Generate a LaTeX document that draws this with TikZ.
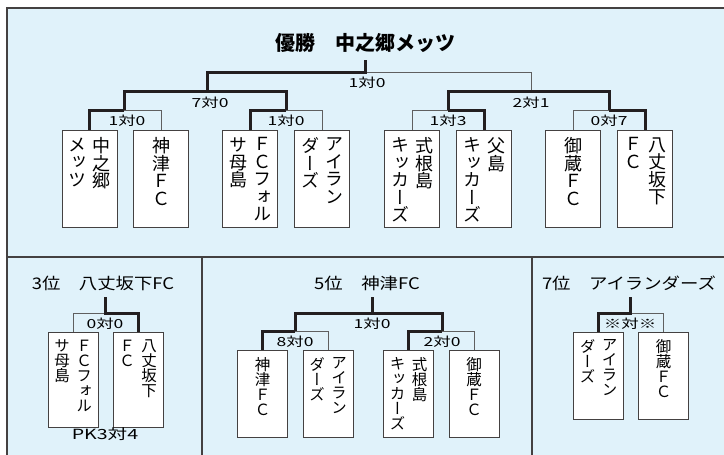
\documentclass[tikz,border=0pt]{standalone}
\usepackage{fontspec}
\setmainfont{Noto Sans CJK JP}
\newfontfamily\tatefont{Noto Sans CJK JP}[RawFeature=+vert]
\newfontfamily\scorefont{Noto Sans CJK JP}[FakeStretch=1.4]
\newfontfamily\headfont{Noto Sans CJK JP}[FakeStretch=1.15]
\usetikzlibrary{positioning}
\definecolor{panelblue}{RGB}{224,242,250}
\definecolor{inkdark}{RGB}{35,31,32}
\definecolor{inkgray}{RGB}{95,95,95}
\tikzset{
  win/.style={line width=3pt, draw=inkdark},
  lose/.style={line width=1pt, draw=inkgray},
  teambox/.style={draw=inkdark!85, line width=0.9pt, fill=white, inner sep=0pt,
    minimum width=55pt, minimum height=97pt},
  smallbox/.style={teambox, minimum width=50pt, minimum height=87pt},
  tate/.style={inner sep=0pt, align=center, font=\tatefont\fontsize{18}{17.5}\selectfont},
  smalltate/.style={tate, font=\tatefont\fontsize{15.5}{15}\selectfont},
  score/.style={inner sep=0pt, font=\scorefont\fontsize{12.5}{14}\selectfont},
  heading/.style={inner sep=0pt, font=\headfont\fontsize{16}{18}\selectfont},
}
\begin{document}
\begin{tikzpicture}[x=1pt,y=1pt]
    \useasboundingbox (0,0) rectangle (724,-455);
    % panels
    \fill[panelblue] (7,-8) rectangle (724,-455);
    \draw[line width=2pt, draw=inkdark!85] (7,-455) -- (7,-8) -- (724,-8);
    \draw[line width=1.5pt, draw=inkdark!85] (7,-257) -- (724,-257);
    \draw[line width=1.5pt, draw=inkdark!85] (202,-257) -- (202,-455);
    \draw[line width=1.5pt, draw=inkdark!85] (532,-257) -- (532,-455);

    % main bracket
    \node[inner sep=0pt, font=\bfseries\fontsize{20}{22}\selectfont] (champ) at (365,-43) {優勝　中之郷メッツ};
    \coordinate (ctop) at (365,-60);
    \coordinate (f) at (365,-72);
    \coordinate (s1) at (207,-91);
    \coordinate (s2) at (531,-91);
    \coordinate (q1) at (124,-110);
    \coordinate (q2) at (286,-110);
    \coordinate (q3) at (448,-110);
    \coordinate (q4) at (609,-110);
    \node[teambox] (b1) at (89.5,-178.5) {};
    \node[teambox] (b2) at (161,-178.5) {};
    \node[teambox] (b3) at (250,-178.5) {};
    \node[teambox] (b4) at (322,-178.5) {};
    \node[teambox] (b5) at (412,-178.5) {};
    \node[teambox] (b6) at (484,-178.5) {};
    \node[teambox] (b7) at (573,-178.5) {};
    \node[teambox] (b8) at (645,-178.5) {};
    \node[tate, below=8pt of b1.north, xshift=12pt] (b1r) {中\\之\\郷};
    \node[tate, below=8pt of b1.north, xshift=-12pt] (b1l) {メ\\ッ\\ツ};
    \node[tate, below=8pt of b2.north] (b2c) {神\\津\\Ｆ\\Ｃ};
    \node[tate, below=8pt of b3.north, xshift=12pt] (b3r) {Ｆ\\Ｃ\\フ\\ォ\\ル};
    \node[tate, below=8pt of b3.north, xshift=-12pt] (b3l) {サ\\母\\島};
    \node[tate, below=8pt of b4.north, xshift=12pt] (b4r) {ア\\イ\\ラ\\ン};
    \node[tate, below=8pt of b4.north, xshift=-12pt] (b4l) {ダ\\ー\\ズ};
    \node[tate, below=8pt of b5.north, xshift=12pt] (b5r) {式\\根\\島};
    \node[tate, below=8pt of b5.north, xshift=-12pt] (b5l) {キ\\ッ\\カ\\ー\\ズ};
    \node[tate, below=8pt of b6.north, xshift=12pt] (b6r) {父\\島};
    \node[tate, below=8pt of b6.north, xshift=-12pt] (b6l) {キ\\ッ\\カ\\ー\\ズ};
    \node[tate, below=8pt of b7.north] (b7c) {御\\蔵\\Ｆ\\Ｃ};
    \node[tate, below=8pt of b8.north, xshift=12pt] (b8r) {八\\丈\\坂\\下};
    \node[tate, below=8pt of b8.north, xshift=-12pt] (b8l) {Ｆ\\Ｃ};
    \draw[lose] (f) -| (s2);
    \draw[win] (ctop) -- (f) -| (s1);
    \draw[win] (q1) |- (s1) -| (q2);
    \draw[win] (q3) |- (s2) -| (q4);
    \draw[lose] (q1) -| (b2.north);
    \draw[win] (q1) -| (b1.north);
    \draw[lose] (q2) -| (b4.north);
    \draw[win] (q2) -| (b3.north);
    \draw[lose] (q3) -| (b5.north);
    \draw[win] (q3) -| (b6.north);
    \draw[lose] (q4) -| (b7.north);
    \draw[win] (q4) -| (b8.north);
    \node[score, below=5pt of f, xshift=2pt] (sf) {1対0};
    \node[score, below=6pt of s1, xshift=3pt] (ss1) {7対0};
    \node[score, below=6pt of s2] (ss2) {2対1};
    \node[score, below=5pt of q1, xshift=3pt] (sq1) {1対0};
    \node[score, below=5pt of q2] (sq2) {1対0};
    \node[score, below=5pt of q3] (sq3) {1対3};
    \node[score, below=5pt of q4] (sq4) {0対7};

    % 3rd place
    \node[heading] (third) at (103,-283) {3位　八丈坂下FC};
    \coordinate (t3) at (105,-297);
    \coordinate (p3) at (105,-313);
    \node[smallbox, minimum height=95pt] (c1) at (73,-379.5) {};
    \node[smallbox, minimum height=95pt] (c2) at (138,-379.5) {};
    \node[smalltate, below=8pt of c1.north, xshift=11pt] (c1r) {Ｆ\\Ｃ\\フ\\ォ\\ル};
    \node[smalltate, below=8pt of c1.north, xshift=-11pt] (c1l) {サ\\母\\島};
    \node[smalltate, below=8pt of c2.north, xshift=11pt] (c2r) {八\\丈\\坂\\下};
    \node[smalltate, below=8pt of c2.north, xshift=-11pt] (c2l) {Ｆ\\Ｃ};
    \draw[lose] (p3) -| (c1.north);
    \draw[win] (t3) -- (p3) -| (c2.north);
    \node[score, below=5pt of p3] (sp3) {0対0};
    \node[score, font=\scorefont\fontsize{14}{16}\selectfont] (pk) at (105,-434) {PK3対4};

    % 5th place
    \node[heading] (fifth) at (367,-283) {5位　神津FC};
    \coordinate (t5) at (372,-297);
    \coordinate (p5) at (372,-313);
    \coordinate (h1) at (295,-331);
    \coordinate (h2) at (442,-331);
    \node[smallbox] (d1) at (262.5,-393.5) {};
    \node[smallbox] (d2) at (328,-393.5) {};
    \node[smallbox] (d3) at (408.5,-393.5) {};
    \node[smallbox] (d4) at (474,-393.5) {};
    \node[smalltate, below=8pt of d1.north] (d1c) {神\\津\\Ｆ\\Ｃ};
    \node[smalltate, below=8pt of d2.north, xshift=11pt] (d2r) {ア\\イ\\ラ\\ン};
    \node[smalltate, below=8pt of d2.north, xshift=-11pt] (d2l) {ダ\\ー\\ズ};
    \node[smalltate, below=8pt of d3.north, xshift=11pt] (d3r) {式\\根\\島};
    \node[smalltate, below=8pt of d3.north, xshift=-11pt] (d3l) {キ\\ッ\\カ\\ー\\ズ};
    \node[smalltate, below=8pt of d4.north] (d4c) {御\\蔵\\Ｆ\\Ｃ};
    \draw[win] (t5) -- (p5) -| (h1);
    \draw[win] (p5) -| (h2);
    \draw[lose] (h1) -| (d2.north);
    \draw[win] (h1) -| (d1.north);
    \draw[lose] (h2) -| (d4.north);
    \draw[win] (h2) -| (d3.north);
    \node[score, below=5pt of p5] (sp5) {1対0};
    \node[score, below=5pt of h1] (sh1) {8対0};
    \node[score, below=5pt of h2] (sh2) {2対0};

    % 7th place
    \node[heading] (seventh) at (629,-283) {7位　アイランダーズ};
    \coordinate (t7) at (630,-297);
    \coordinate (p7) at (630,-313);
    \node[smallbox] (e1) at (598.5,-375.5) {};
    \node[smallbox] (e2) at (663.5,-375.5) {};
    \node[smalltate, below=8pt of e1.north, xshift=11pt] (e1r) {ア\\イ\\ラ\\ン};
    \node[smalltate, below=8pt of e1.north, xshift=-11pt] (e1l) {ダ\\ー\\ズ};
    \node[smalltate, below=8pt of e2.north] (e2c) {御\\蔵\\Ｆ\\Ｃ};
    \draw[lose] (p7) -| (e2.north);
    \draw[win] (t7) -- (p7) -| (e1.north);
    \node[score, below=5pt of p7] (sp7) {※対※};
\end{tikzpicture}
\end{document}
